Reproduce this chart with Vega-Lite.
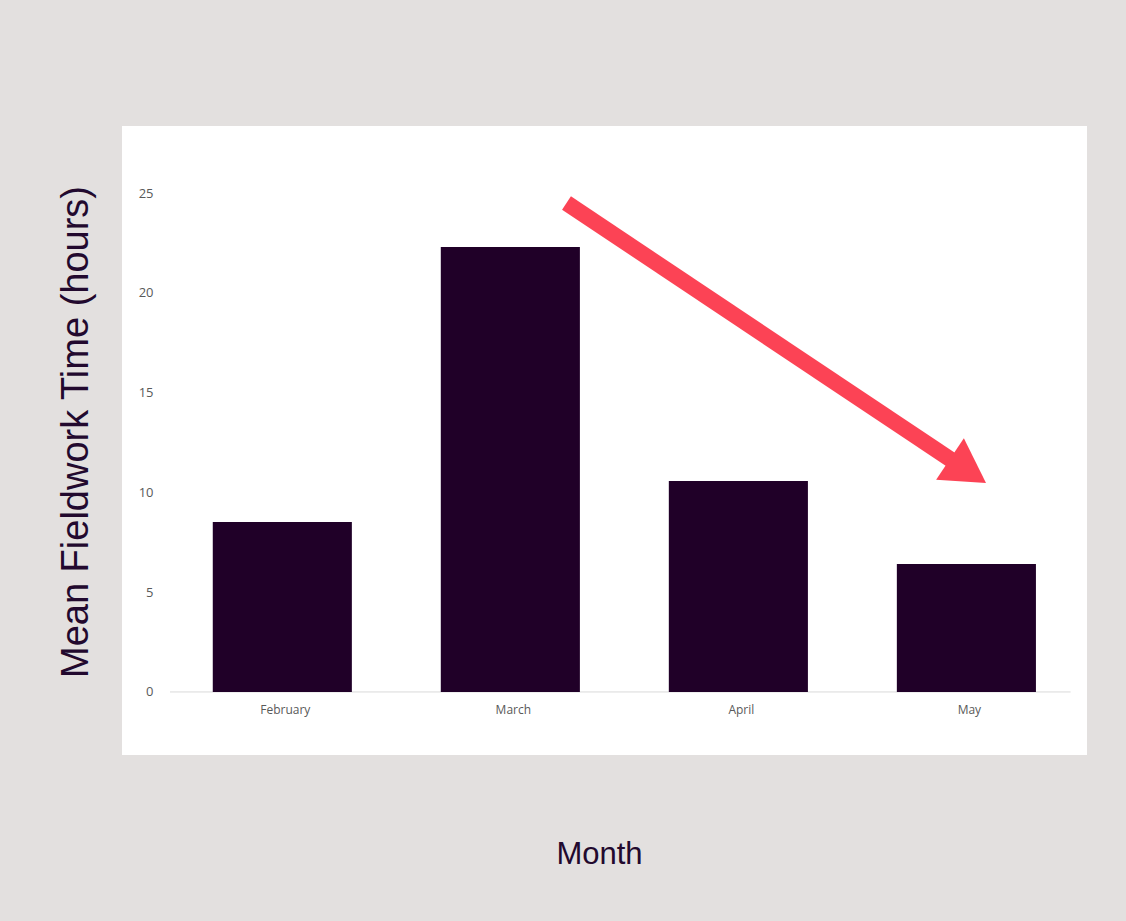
{
  "$schema": "https://vega.github.io/schema/vega-lite/v6.json",
  "width": 965,
  "height": 629,
  "autosize": {"type": "none"},
  "padding": {"left": 122, "top": 126, "right": 39, "bottom": 166},
  "background": "#e3e0df",
  "view": {"fill": "#ffffff", "stroke": null},
  "config": {"font": "Liberation Sans"},
  "layer": [
    {
      "data": {"values": [{"pos": -0.5, "pos2": 3.45}]},
      "mark": {"type": "rule", "color": "#d9d9d9", "strokeWidth": 1},
      "encoding": {
        "x": {"field": "pos", "type": "quantitative", "scale": {"domain": [-0.7105, 3.5219], "nice": false, "zero": false}, "axis": null},
        "x2": {"field": "pos2"},
        "y": {"datum": 0, "type": "quantitative", "scale": {"domain": [-3.16, 28.36], "nice": false, "zero": false}}
      }
    },
    {
      "data": {"values": [
        {"Month": "February", "Hours": 8.52},
        {"Month": "March", "Hours": 22.3},
        {"Month": "April", "Hours": 10.57},
        {"Month": "May", "Hours": 6.41}
      ]},
      "mark": {"type": "bar", "color": "#200028"},
      "encoding": {
        "x": {
          "field": "Month", "type": "nominal",
          "sort": ["February", "March", "April", "May"],
          "scale": {"paddingInner": 0.39, "paddingOuter": 0.311, "align": 0.64},
          "axis": {
            "offset": -63, "domain": false, "ticks": false, "labelAngle": 0, "labelOffset": 3,
            "labelPadding": 12, "labelFont": "Open Sans", "labelFontSize": 12, "labelColor": "#595959",
            "title": "Month", "titleFont": "Liberation Sans", "titleFontSize": 31, "titleFontWeight": "normal",
            "titleColor": "#22092e", "titleX": 477, "titleY": 171, "titleBaseline": "alphabetic", "titleAlign": "center"
          }
        },
        "y": {
          "field": "Hours", "type": "quantitative",
          "scale": {"domain": [-3.16, 28.36], "nice": false, "zero": false},
          "axis": {
            "values": [0, 5, 10, 15, 20, 25], "offset": -33, "domain": false, "ticks": false, "grid": false,
            "labelPadding": 2, "labelFont": "Open Sans", "labelFontSize": 13, "labelColor": "#595959",
            "title": "Mean Fieldwork Time  (hours)", "titleFont": "Liberation Sans", "titleFontSize": 38,
            "titleFontWeight": "normal", "titleColor": "#22092e", "titleX": -68, "titleY": 305.5,
            "titleAngle": -90, "titleBaseline": "alphabetic", "titleAlign": "center"
          }
        }
      }
    },
    {
      "data": {"values": [{"pos": 1.239, "Hours": 24.5}, {"pos": 2.928, "Hours": 11.62}]},
      "mark": {"type": "line", "color": "#fc4355", "strokeWidth": 16, "strokeCap": "butt"},
      "encoding": {
        "x": {"field": "pos", "type": "quantitative", "scale": {"domain": [-0.7105, 3.5219], "nice": false, "zero": false}, "axis": null},
        "y": {"field": "Hours", "type": "quantitative", "scale": {"domain": [-3.16, 28.36], "nice": false, "zero": false}}
      }
    },
    {
      "data": {"values": [{"pos": 3.0, "Hours": 11.07}]},
      "mark": {"type": "point", "shape": "triangle-right", "filled": true, "opacity": 1, "color": "#fc4355", "size": 2500, "angle": 33.7},
      "encoding": {
        "x": {"field": "pos", "type": "quantitative", "scale": {"domain": [-0.7105, 3.5219], "nice": false, "zero": false}, "axis": null},
        "y": {"field": "Hours", "type": "quantitative", "scale": {"domain": [-3.16, 28.36], "nice": false, "zero": false}}
      }
    }
  ],
  "resolve": {"scale": {"x": "independent"}, "axis": {"x": "independent"}}
}
